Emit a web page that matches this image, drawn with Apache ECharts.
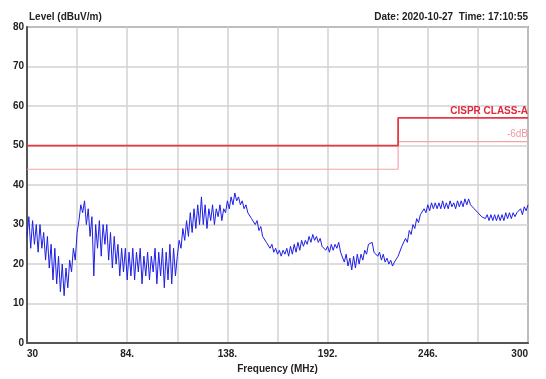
<!DOCTYPE html>
<html>
<head>
<meta charset="utf-8">
<script src="https://cdn.jsdelivr.net/npm/echarts@6/dist/echarts.min.js"></script>
<style>
  html, body { margin: 0; padding: 0; background: #fff; }
  #chart { width: 546px; height: 379px; }
</style>
</head>
<body>
<div id="chart"></div>
<script>
// sweep: 30 .. 300 MHz, 1 MHz step
const freqStart = 30;
const freqStep = 1;
const levels = [
  27, 32, 24, 31, 25, 30, 23, 30, 24, 28,
  21, 27, 19, 25, 16, 24, 15, 22, 13, 20,
  12, 19, 14, 21, 18, 24, 21, 28, 31, 35,
  33, 36, 30, 34, 27, 32, 17, 30, 24, 31,
  22, 30, 25, 30, 21, 28, 19, 27, 20, 25,
  17, 24, 18, 24, 16, 23, 17, 24, 16, 23,
  18, 24, 15, 22, 17, 23, 16, 22, 18, 24,
  15, 23, 17, 24, 14, 23, 16, 25, 15, 24,
  17, 22, 26, 24, 29, 26, 31, 27, 33, 28,
  34, 29, 35, 30, 37, 30, 35, 29, 34, 31,
  35, 30, 34, 32, 35, 31, 34, 33, 36, 34,
  37, 35, 38, 36, 37, 35, 36, 34, 35, 33,
  33.5, 31.5, 32, 30, 31, 28.5, 29.5, 27, 27.5, 25.5,
  26, 24, 25, 23, 24, 22.5, 23.5, 22, 23.5, 22.5,
  24, 22, 24.5, 22.5, 25, 23, 25.5, 23.5, 26, 24.5,
  26, 25, 27, 25.5, 27.5, 26, 27, 25.5, 26.5, 24.5,
  25, 23.5, 24.5, 23, 25, 23.5, 25, 24, 25.5, 23,
  23, 20.5, 22.5, 19.5, 21.5, 18.5, 22, 19, 22.5, 20,
  22.5, 21, 23.5, 22.5, 25, 24.5, 25.5, 23, 23.5, 22,
  23, 21, 22.5, 20.5, 21.5, 20, 21, 19.5, 20.5, 20,
  22, 22, 24.5, 24, 26.5, 25.5, 28.5, 27.5, 30, 29,
  31.5, 30.5, 32.5, 32, 34, 33, 35, 33.5, 35.5, 34,
  35.5, 34, 35.5, 34, 36, 34, 35.5, 34, 36, 34.5,
  35.5, 34, 36, 34.5, 36, 34.5, 36.5, 35, 36.5, 35,
  35.5, 34, 34.5, 33, 33.5, 32, 32.5, 31.5, 32.5, 31,
  32.5, 31, 32.5, 31, 32.5, 31, 32.5, 31, 33, 31.5,
  33, 31.5, 33, 32, 33, 32.5, 34, 32.5, 34.5, 33.5, 35
];

// limit lines (step at 230 MHz)
const limitFreq = [30, 230, 230, 300];
const limitClassA = [50, 50, 57, 57];
const limitMinus6 = [44, 44, 51, 51];

const xTicks = { min: 30, max: 300, step: 27 };
const yTicks = { min: 0, max: 80, step: 10 };

const font = "'Liberation Sans', Arial, sans-serif";

const chartDom = echarts.init(document.getElementById("chart"));
chartDom.setOption({
  animation: false,
  backgroundColor: "#fff",
  textStyle: { fontFamily: font },
  grid: {
    left: 27,
    right: 18,
    top: 27,
    bottom: 28,
    show: true,
    borderColor: "#555",
    borderWidth: 1.5
  },
  graphic: [
    {
      type: "text",
      right: 18,
      top: 12,
      style: {
        text: "Date: 2020-10-27  Time: 17:10:55",
        font: "bold 10px " + font,
        fill: "#222"
      }
    }
  ],
  xAxis: {
    type: "value",
    min: xTicks.min,
    max: xTicks.max,
    interval: xTicks.step,
    name: "Frequency (MHz)",
    nameLocation: "middle",
    nameGap: 18,
    nameTextStyle: { color: "#222", fontWeight: "bold", fontSize: 10, fontFamily: font },
    axisLine: { lineStyle: { color: "#555", width: 2 } },
    axisTick: { show: false },
    splitLine: { lineStyle: { color: "#d2d2d2", width: 1.5 } },
    axisLabel: {
      color: "#222",
      fontWeight: "bold",
      fontSize: 10,
      margin: 6,
      alignMinLabel: "left",
      alignMaxLabel: "right",
      showMinLabel: true,
      showMaxLabel: true,
      formatter: v => {
        if (v === xTicks.min || v === xTicks.max) return String(v);
        return (v - xTicks.min) % (xTicks.step * 2) === 0 ? v + "." : "";
      }
    }
  },
  yAxis: {
    type: "value",
    min: yTicks.min,
    max: yTicks.max,
    interval: yTicks.step,
    name: "Level (dBuV/m)",
    nameLocation: "end",
    nameGap: 3,
    nameTextStyle: {
      color: "#222",
      fontWeight: "bold",
      fontSize: 10,
      fontFamily: font,
      align: "left",
      padding: [0, 0, 0, 2]
    },
    axisLine: { show: true, lineStyle: { color: "#555", width: 2 } },
    axisTick: { show: false },
    splitLine: { lineStyle: { color: "#d2d2d2", width: 1.5 } },
    axisLabel: { color: "#222", fontWeight: "bold", fontSize: 10, margin: 3 }
  },
  series: [
    {
      name: "-6dB",
      type: "line",
      data: limitFreq.map((f, i) => [f, limitMinus6[i]]),
      symbol: "none",
      lineStyle: { color: "#f2a5a8", width: 1.2 },
      markPoint: {
        symbol: "circle",
        symbolSize: 0,
        data: [{ coord: [limitFreq[3], limitMinus6[3]] }],
        label: {
          show: true,
          position: "top",
          align: "right",
          distance: 2,
          formatter: "-6dB",
          color: "#f29a9e",
          fontSize: 10,
          fontFamily: font
        }
      }
    },
    {
      name: "CISPR CLASS-A",
      type: "line",
      data: limitFreq.map((f, i) => [f, limitClassA[i]]),
      symbol: "none",
      lineStyle: { color: "#e63946", width: 1.8 },
      markPoint: {
        symbol: "circle",
        symbolSize: 0,
        data: [{ coord: [limitFreq[3], limitClassA[3]] }],
        label: {
          show: true,
          position: "top",
          align: "right",
          distance: 2,
          formatter: "CISPR CLASS-A",
          color: "#e0283c",
          fontWeight: "bold",
          fontSize: 10,
          fontFamily: font
        }
      }
    },
    {
      name: "Level",
      type: "line",
      data: levels.map((v, i) => [freqStart + i * freqStep, v]),
      symbol: "none",
      lineStyle: { color: "#1e1ee6", width: 1 }
    }
  ]
});
</script>
</body>
</html>
